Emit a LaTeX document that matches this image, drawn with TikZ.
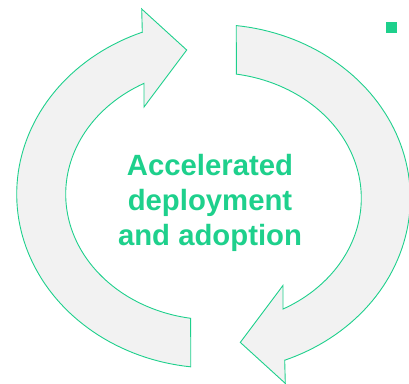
\documentclass[tikz,border=0pt]{standalone}
\usepackage{fontspec}
\setmainfont{Liberation Sans}
\definecolor{accent}{RGB}{30,208,140}
\definecolor{arrowfill}{RGB}{242,242,242}
\begin{document}
\begin{tikzpicture}[x=1pt,y=-1pt,
  cyclearrow/.style={draw=accent, line width=0.9pt, fill=arrowfill, line join=miter},
  titletext/.style={text=accent, font=\bfseries\fontsize{29.3}{34.7}\selectfont, inner sep=0pt, anchor=base},
  markerbox/.style={fill=accent, draw=none, minimum size=11pt, inner sep=0pt}]
\useasboundingbox (0,0) rectangle (409,383);
\def\myarrowshape{%
  \path[cyclearrow] plot[domain=96.65:248.79, samples=80, variable=\t] ({213.5+196.8*cos(\t)},{194.2+173.8*sin(\t)})
    -- (141.7,9) -- (186.7,50) -- (144,107)
    -- plot[domain=241.95:98.88, samples=80, variable=\t] ({213.5+147.8*cos(\t)},{194.2+125.6*sin(\t)})
    -- cycle;}
\myarrowshape
\begin{scope}[rotate around={180:(213.5,196.2)}]
\myarrowshape
\end{scope}
\node[titletext] (line1) at (210,175.5) {Accelerated};
\node[titletext] (line2) at (210,210.3) {deployment};
\node[titletext] (line3) at (210,245) {and adoption};
\node[markerbox] (marker) at (391,27) {};
\end{tikzpicture}
\end{document}
